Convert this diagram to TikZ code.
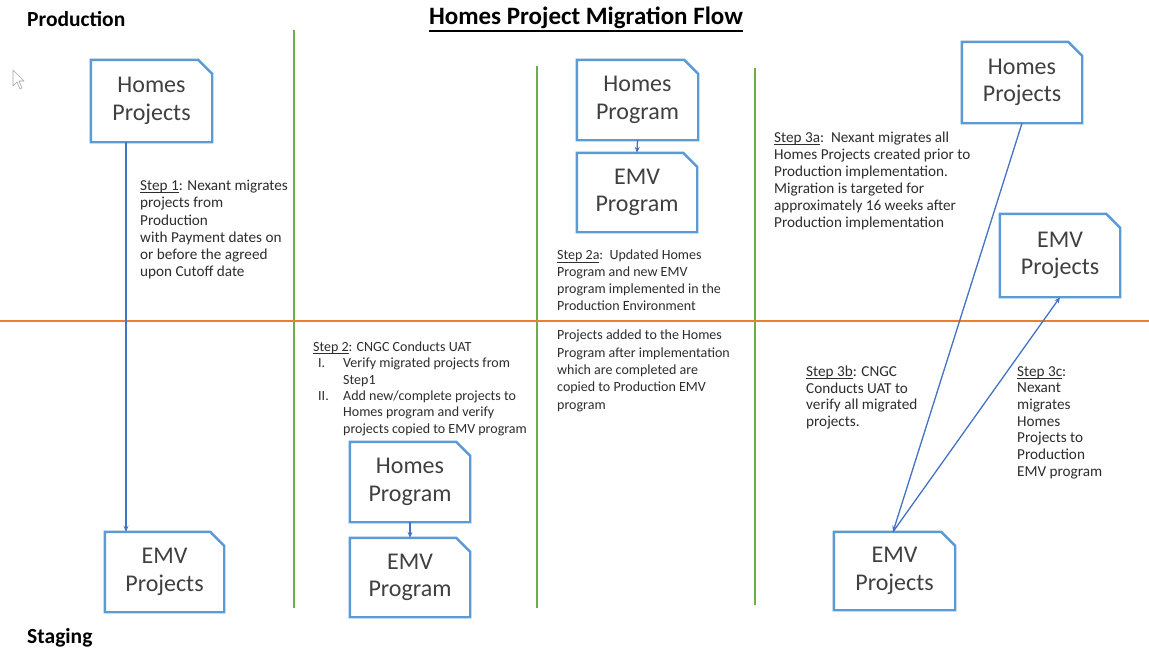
\documentclass[tikz,border=0pt]{standalone}
\usepackage{fontspec}
\setmainfont{Carlito}
\usetikzlibrary{arrows.meta}

\definecolor{boxblue}{RGB}{91,155,213}
\definecolor{arrblue}{RGB}{68,114,196}
\definecolor{divgreen}{RGB}{112,173,71}
\definecolor{divorange}{RGB}{237,125,49}
\definecolor{boxtext}{RGB}{64,64,64}
\definecolor{steptext}{RGB}{45,45,45}

% underline drawn just below the baseline, through the descenders
\newcommand\stepul[1]{\setbox0\hbox{#1}\rlap{\rule[-2.4pt]{\wd0}{0.8pt}}\box0}

\begin{document}
\begin{tikzpicture}[x=1pt,y=-1pt,
  docbox/.style={rectangle, minimum width=#1, inner sep=0pt, text=boxtext,
    font=\fontsize{24}{27.5}\selectfont, align=center},
  docbox/.default=120pt,
  docline/.style={draw=boxblue, line width=2.4pt, line join=miter},
  flow/.style={draw=arrblue, line width=1.3pt, -{Stealth[length=6pt,width=5pt]}},
  divider/.style={draw=divgreen, line width=1.4pt},
  note/.style={anchor=north west, inner sep=0pt, align=left, text=steptext,
    font=\fontsize{15.2}{17.2}\selectfont},
  smallnote/.style={note, font=\fontsize{14}{16.8}\selectfont},
  heading/.style={font=\fontsize{21.5}{24}\bfseries\selectfont, text=black, inner sep=0pt}
]
\useasboundingbox (0,0) rectangle (1149,654);
\fill[white] (0,0) rectangle (1149,654);

% section dividers
\draw[divider] (294,30) -- (294,608);
\draw[divider] (537,66) -- (537,608);
\draw[divider] (755,68) -- (755,605);
\draw[draw=divorange, line width=2pt] (0,321) -- (1149,321);

% headings
\node[heading, anchor=west] (prod) at (27,19) {Production};
\node[heading, anchor=west] (stag) at (27,638) {Staging};
\node[font=\fontsize{25}{28}\bfseries\selectfont, inner sep=0pt] (title) at (586,18)
  {Homes Project Migration Flow};
\draw[black, line width=1.6pt] ([yshift=-2pt]title.south west) -- ([yshift=-2pt]title.south east);

% pointer
\draw[gray!70, line width=0.6pt, line join=round] (13,70) -- (13,86) -- (17,82) -- (20,89)
  -- (22,88) -- (19,81) -- (24,81) -- cycle;

% documents
\node[docbox=121pt, minimum height=82pt] (hp1)  at (151.5,101)  {Homes\\Projects};
\node[docbox=119pt, minimum height=80pt] (emv1) at (164.5,572)  {EMV\\Projects};
\node[docbox=121pt, minimum height=80pt] (hpr1) at (637.5,100)  {Homes\\Program};
\node[docbox=120pt, minimum height=79pt] (epr1) at (637,192.5)  {EMV\\Program};
\node[docbox=120pt, minimum height=81pt] (hp2)  at (1022,82.5)  {Homes\\Projects};
\node[docbox=120pt, minimum height=83pt] (emv2) at (1060,255.5) {EMV\\Projects};
\node[docbox=120pt, minimum height=80pt] (hpr2) at (410,482)    {Homes\\Program};
\node[docbox=120pt, minimum height=79pt] (epr2) at (410,577.5)  {EMV\\Program};
\node[docbox=121pt, minimum height=78pt] (emv3) at (894.5,571)  {EMV\\Projects};

\foreach \n in {hp1,emv1,hpr1,epr1,hp2,emv2,hpr2,epr2,emv3}
  \draw[docline] (\n.south west) -- (\n.north west) -- ([xshift=-14pt]\n.north east)
    -- ([yshift=-14pt]\n.north east) -- (\n.south east) -- cycle;

% connectors
\coordinate (c1) at (126,0);
\coordinate (c9) at (893,0);
\draw[flow] (hp1.south -| c1) -- (emv1.north -| c1);
\draw[flow] (hpr1.south) -- (epr1.north);
\draw[flow] (hpr2.south) -- (epr2.north);
\draw[flow] (hp2.south) -- (emv3.north -| c9);
\draw[flow] (emv3.north -| c9) -- (emv2.south);

% step notes
\node[note] (s1) at (140,180) {\stepul{Step 1}: Nexant migrates\\projects from\\Production\\with Payment dates on\\or before the agreed\\upon Cutoff date};

\node[smallnote, font=\fontsize{14}{16.3}\selectfont] (s2) at (313,340) {%
  \begin{tabular}{@{}p{30pt}@{}l@{}}
  \multicolumn{2}{@{}l@{}}{\stepul{Step 2}: CNGC Conducts UAT}\\
  \hspace{5pt}I. & Verify migrated projects from\\
   & Step1\\
  \hspace{5pt}II. & Add new/complete projects to\\
   & Homes program and verify\\
   & projects copied to EMV program
  \end{tabular}};

\node[smallnote] (s2a) at (557,250) {\stepul{Step 2a}:\ \ Updated Homes\\Program and new EMV\\program implemented in the\\Production Environment};

\node[smallnote, font=\fontsize{14}{17.3}\selectfont] (s2b) at (557,330) {Projects added to the Homes\\Program after implementation\\which are completed are\\copied to Production EMV\\program};

\node[note, font=\fontsize{15.2}{16.9}\selectfont] (s3a) at (774,132) {\stepul{Step 3a}:\ \ Nexant migrates all\\Homes Projects created prior to\\Production implementation.\\Migration is targeted for\\approximately 16 weeks after\\Production implementation};

\node[note, font=\fontsize{15.2}{16.5}\selectfont] (s3b) at (806,366) {\stepul{Step 3b}: CNGC\\Conducts UAT to\\verify all migrated\\projects.};

\node[note, font=\fontsize{15.2}{16.7}\selectfont] (s3c) at (1017,366) {\stepul{Step 3c}:\\Nexant\\migrates\\Homes\\Projects to\\Production\\EMV program};
\end{tikzpicture}
\end{document}
